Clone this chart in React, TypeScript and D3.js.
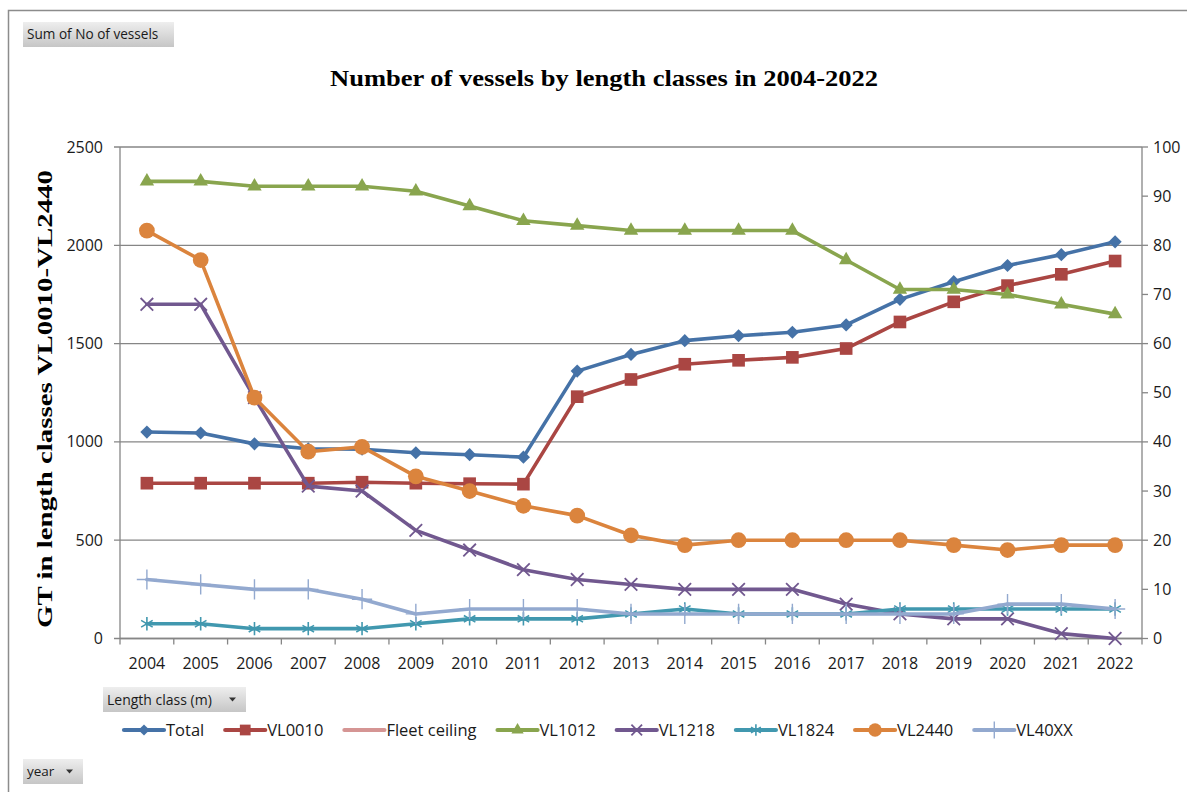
import React from 'react';
import * as d3 from 'd3';

// ---- data (values in number of vessels, right-axis units; left axis is the GT scale) ----
const YEARS = ['2004', '2005', '2006', '2007', '2008', '2009', '2010', '2011', '2012', '2013', '2014', '2015', '2016', '2017', '2018', '2019', '2020', '2021', '2022'];
const TOTAL = [42, 41.8, 39.6, 38.6, 38.5, 37.8, 37.4, 36.9, 54.4, 57.8, 60.6, 61.6, 62.3, 63.8, 69.0, 72.6, 75.9, 78.1, 80.7];
const VL0010 = [31.6, 31.6, 31.6, 31.6, 31.8, 31.6, 31.5, 31.4, 49.2, 52.7, 55.8, 56.6, 57.2, 59.0, 64.4, 68.5, 71.8, 74.1, 76.8];
const FLEET_CEILING: number[] = [];
const VL1012 = [93, 93, 92, 92, 92, 91, 88, 85, 84, 83, 83, 83, 83, 77, 71, 71, 70, 68, 66];
const VL1218 = [68, 68, 49, 31, 30, 22, 18, 14, 12, 11, 10, 10, 10, 7, 5, 4, 4, 1, 0];
const VL1824 = [3, 3, 2, 2, 2, 3, 4, 4, 4, 5, 6, 5, 5, 5, 6, 6, 6, 6, 6];
const VL2440 = [83, 77, 49, 38, 39, 33, 30, 27, 25, 21, 19, 20, 20, 20, 20, 19, 18, 19, 19];
const VL40XX = [12, 11, 10, 10, 8, 5, 6, 6, 6, 5, 5, 5, 5, 5, 5, 5, 7, 7, 6];
const LEFT_TICKS = [0, 500, 1000, 1500, 2000, 2500];
const RIGHT_TICKS = [0, 10, 20, 30, 40, 50, 60, 70, 80, 90, 100];

const TITLE = 'Number of vessels by length classes in 2004-2022';
const Y_TITLE = 'GT in length classes VL0010-VL2440';

type MarkerKind = 'diamond' | 'square' | 'none' | 'triangle' | 'times' | 'asterisk' | 'circle' | 'plus';
interface Series { name: string; values: number[]; color: string; marker: MarkerKind; }

const SERIES: Series[] = [
  { name: 'Total', values: TOTAL, color: '#4572A7', marker: 'diamond' },
  { name: 'VL0010', values: VL0010, color: '#AA4643', marker: 'square' },
  { name: 'Fleet ceiling', values: FLEET_CEILING, color: '#D59594', marker: 'none' },
  { name: 'VL1012', values: VL1012, color: '#89A54E', marker: 'triangle' },
  { name: 'VL1218', values: VL1218, color: '#71588F', marker: 'times' },
  { name: 'VL1824', values: VL1824, color: '#4198AF', marker: 'asterisk' },
  { name: 'VL2440', values: VL2440, color: '#DB843D', marker: 'circle' },
  { name: 'VL40XX', values: VL40XX, color: '#93A9CF', marker: 'plus' },
];

const W = 1187;
const H = 792;
const PLOT = { left: 120, right: 1142, top: 147, bottom: 638.5 };
const GRID = '#868686';
const SANS = "'Open Sans', 'Noto Sans', sans-serif";
const SERIF = "'Liberation Serif', 'Times New Roman', serif";

const x = d3.scaleBand<string>().domain(YEARS).range([PLOT.left, PLOT.right]).paddingInner(0).paddingOuter(0);
const yRight = d3.scaleLinear().domain([0, 100]).range([PLOT.bottom, PLOT.top]);
const yLeft = d3.scaleLinear().domain([0, 2500]).range([PLOT.bottom, PLOT.top]);
const cx = (yr: string) => (x(yr) as number) + x.bandwidth() / 2;

const MARKER_SPEC: Record<MarkerKind, { type: d3.SymbolType | null; size: number; filled: boolean; sw: number }> = {
  diamond: { type: d3.symbolDiamond2, size: 110, filled: true, sw: 0 },
  square: { type: d3.symbolSquare, size: 160, filled: true, sw: 0 },
  none: { type: null, size: 0, filled: false, sw: 0 },
  triangle: { type: d3.symbolTriangle, size: 90, filled: true, sw: 0 },
  times: { type: d3.symbolTimes, size: 105, filled: false, sw: 1.8 },
  asterisk: { type: d3.symbolAsterisk, size: 125, filled: false, sw: 1.6 },
  circle: { type: d3.symbolCircle, size: 195, filled: true, sw: 0 },
  plus: { type: d3.symbolPlus, size: 135, filled: false, sw: 1.4 },
};

function Marker({ kind, color, tx, ty, scale = 1 }: { kind: MarkerKind; color: string; tx: number; ty: number; scale?: number }) {
  const spec = MARKER_SPEC[kind];
  if (!spec.type) return null;
  const d = d3.symbol(spec.type, spec.size * scale * scale)() || '';
  return (
    <path
      d={d}
      transform={`translate(${tx},${ty})`}
      fill={spec.filled ? color : 'none'}
      stroke={spec.filled ? 'none' : color}
      strokeWidth={spec.sw}
    />
  );
}

let measureCtx: CanvasRenderingContext2D | null = null;
function textWidth(text: string, font: string): number {
  if (!measureCtx) measureCtx = document.createElement('canvas').getContext('2d');
  if (!measureCtx) return text.length * 8.5;
  measureCtx.font = font;
  return measureCtx.measureText(text).width;
}

function PivotButton({ x0, y0, w, h, label, arrow, fontSize }: { x0: number; y0: number; w: number; h: number; label: string; arrow: boolean; fontSize: number }) {
  return (
    <g>
      <rect x={x0} y={y0} width={w} height={h} fill="url(#btnGrad)" />
      <text x={x0 + 4} y={y0 + h / 2 + fontSize * 0.36} fontFamily={SANS} fontSize={fontSize} fill="#1a1a1a">{label}</text>
      {arrow && (
        <path d={`M${x0 + w - 17},${y0 + h / 2 - 2} l7,0 l-3.5,4 z`} fill="#333" />
      )}
    </g>
  );
}

export default function App() {
  const line = (vals: number[]) =>
    d3.line<number>().x((_, i) => cx(YEARS[i])).y((v) => yRight(v))(vals) || '';

  // legend layout: line sample, label, gap
  const LEGEND_FS = 16.5;
  const legendFont = `${LEGEND_FS}px 'Open Sans'`;
  const legendY = 730;
  const SAMPLE = 40;
  const legendItems: { s: Series; x0: number }[] = [];
  let lx = 124;
  for (const s of SERIES) {
    legendItems.push({ s, x0: lx });
    lx += SAMPLE + 2 + textWidth(s.name, legendFont) + 21;
  }

  return (
    <svg width={W} height={H} viewBox={`0 0 ${W} ${H}`} style={{ position: 'absolute', left: 0, top: 0, display: 'block', background: '#fff' }}>
      <defs>
        <linearGradient id="btnGrad" x1="0" y1="0" x2="0" y2="1">
          <stop offset="0" stopColor="#eeeeee" />
          <stop offset="1" stopColor="#c6c6c6" />
        </linearGradient>
      </defs>

      {/* chart frame */}
      <rect x={8.5} y={10.5} width={W + 20} height={H + 20} fill="#fff" stroke="#8c8c8c" strokeWidth={1.5} />

      <PivotButton x0={23} y0={22} w={151} h={25} label="Sum of No of vessels" arrow={false} fontSize={13.6} />

      {/* title */}
      <text x={604} y={86} textAnchor="middle" fontFamily={SERIF} fontWeight="bold" fontSize={24} textLength={548} lengthAdjust="spacingAndGlyphs" fill="#000">{TITLE}</text>

      {/* left axis title */}
      <text transform={`translate(52,${(170 + 628) / 2}) rotate(-90)`} textAnchor="middle" fontFamily={SERIF} fontWeight="bold" fontSize={22} textLength={458} lengthAdjust="spacingAndGlyphs" fill="#000">{Y_TITLE}</text>

      {/* gridlines */}
      {LEFT_TICKS.map((t) => (
        <line key={`g${t}`} x1={PLOT.left - 6} x2={PLOT.right} y1={yLeft(t)} y2={yLeft(t)} stroke={GRID} strokeWidth={1.3} />
      ))}
      {/* left axis */}
      <line x1={PLOT.left} x2={PLOT.left} y1={PLOT.top} y2={PLOT.bottom} stroke={GRID} strokeWidth={1.3} />
      {LEFT_TICKS.map((t) => (
        <text key={`l${t}`} x={103} y={yLeft(t) + 5.5} textAnchor="end" fontFamily={SANS} fontSize={16} fill="#1a1a1a">{t}</text>
      ))}
      {/* right axis */}
      <line x1={PLOT.right} x2={PLOT.right} y1={PLOT.top} y2={PLOT.bottom} stroke={GRID} strokeWidth={1.3} />
      {RIGHT_TICKS.map((t) => (
        <g key={`r${t}`}>
          <line x1={PLOT.right} x2={PLOT.right + 6} y1={yRight(t)} y2={yRight(t)} stroke={GRID} strokeWidth={1.3} />
          <text x={1153} y={yRight(t) + 5.5} fontFamily={SANS} fontSize={16} fill="#1a1a1a">{t}</text>
        </g>
      ))}
      {/* category axis */}
      <line x1={PLOT.left} x2={PLOT.right} y1={PLOT.bottom} y2={PLOT.bottom} stroke={GRID} strokeWidth={1.3} />
      {YEARS.map((yr) => (
        <line key={`t${yr}`} x1={x(yr) as number} x2={x(yr) as number} y1={PLOT.bottom} y2={PLOT.bottom + 6} stroke={GRID} strokeWidth={1.3} />
      ))}
      <line x1={PLOT.right} x2={PLOT.right} y1={PLOT.bottom} y2={PLOT.bottom + 6} stroke={GRID} strokeWidth={1.3} />
      {YEARS.map((yr) => (
        <text key={`x${yr}`} x={cx(yr)} y={669} textAnchor="middle" fontFamily={SANS} fontSize={16} fill="#1a1a1a">{yr}</text>
      ))}

      {/* series */}
      {SERIES.map((s) => (
        <g key={s.name}>
          {s.values.length > 0 && (
            <path d={line(s.values)} fill="none" stroke={s.color} strokeWidth={3.6} strokeLinejoin="round" strokeLinecap="round" />
          )}
          {s.values.map((v, i) => (
            <Marker key={i} kind={s.marker} color={s.color} tx={cx(YEARS[i])} ty={yRight(v)} />
          ))}
        </g>
      ))}

      <PivotButton x0={103} y0={687} w={143} h={25} label="Length class (m)" arrow={true} fontSize={14} />

      {/* legend */}
      {legendItems.map(({ s, x0 }) => (
        <g key={`lg${s.name}`}>
          <line x1={x0} x2={x0 + SAMPLE} y1={legendY} y2={legendY} stroke={s.color} strokeWidth={4.2} strokeLinecap="round" />
          <Marker kind={s.marker} color={s.color} tx={x0 + SAMPLE / 2} ty={legendY} scale={0.85} />
          <text x={x0 + SAMPLE + 2} y={legendY + 6} fontFamily={SANS} fontSize={LEGEND_FS} fill="#1a1a1a">{s.name}</text>
        </g>
      ))}

      <PivotButton x0={23} y0={759} w={60} h={25} label="year" arrow={true} fontSize={13.5} />
    </svg>
  );
}
